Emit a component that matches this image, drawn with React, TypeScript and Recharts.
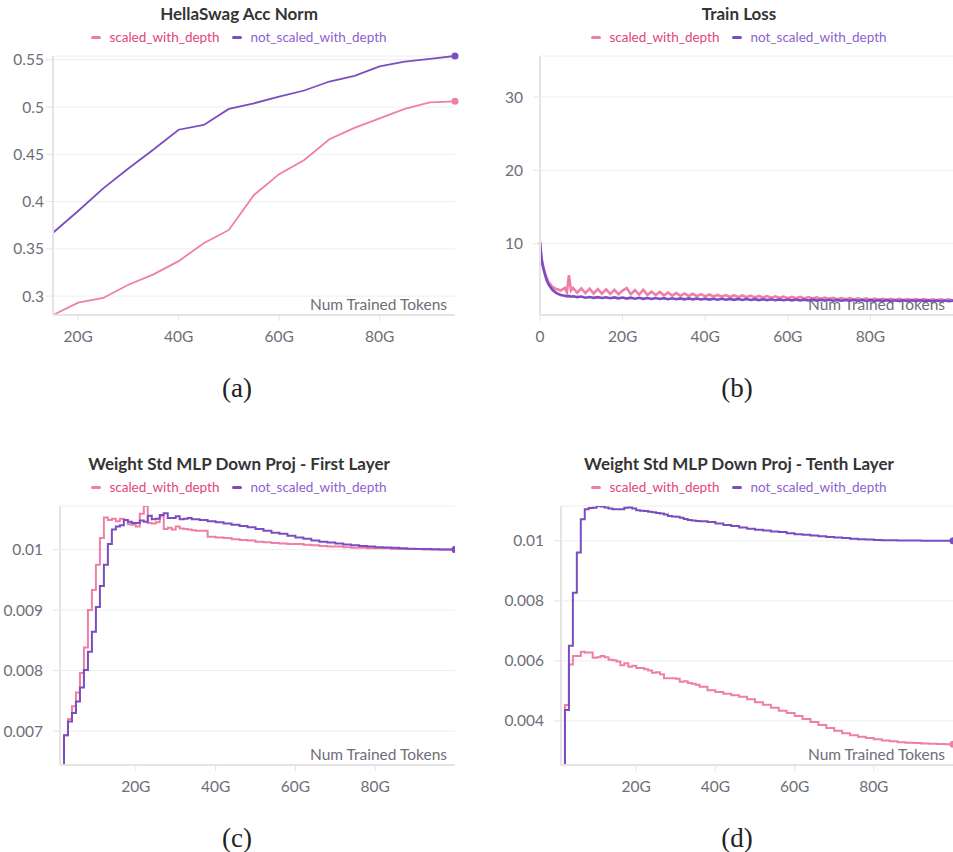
import React from 'react'
import { LineChart, Line, XAxis, YAxis, CartesianGrid } from 'recharts'

const PINK = '#ef7fa7'
const PURPLE = '#7c4dbf'
const PINK_TEXT = '#e3457a'
const PURPLE_TEXT = '#8d62cf'
const FONT = 'Lato, "Noto Sans", sans-serif'

// (a) HellaSwag Acc Norm
const hsTokens = [15, 20, 25, 30, 35, 40, 45, 50, 55, 60, 65, 70, 75, 80, 85, 90, 95]
const hsScaled = [0.28, 0.293, 0.298, 0.312, 0.323, 0.337, 0.356, 0.37, 0.407, 0.429, 0.444, 0.466, 0.478, 0.488, 0.498, 0.505, 0.506]
const hsNotScaled = [0.367, 0.39, 0.414, 0.435, 0.455, 0.476, 0.481, 0.498, 0.504, 0.511, 0.5175, 0.527, 0.533, 0.543, 0.548, 0.551, 0.554]
const hsYTicks = [0.3, 0.35, 0.4, 0.45, 0.5, 0.55]

// (b) Train Loss
const lossTokens = [
  0, 0.25, 0.5, 1, 1.5, 2, 3, 4, 5, 6, 6.5, 7, 7.5, 8,
  9, 10, 11, 12, 13, 14, 15, 16, 17, 18, 19, 20,
  21, 22, 23, 24, 25, 26, 27, 28, 29, 30,
  31, 32, 33, 34, 35, 36, 37, 38, 39, 40,
  41, 42, 43, 44, 45, 46, 47, 48, 49, 50,
  51, 52, 53, 54, 55, 56, 57, 58, 59, 60,
  61, 62, 63, 64, 65, 66, 67, 68, 69, 70,
  71, 72, 73, 74, 75, 76, 77, 78, 79, 80,
  81, 82, 83, 84, 85, 86, 87, 88, 89, 90,
  91, 92, 93, 94, 95, 96, 97, 98, 99, 100,
]
const lossScaled = [
  10.2, 8.7, 7.6, 6.4, 5.5, 4.8, 4.1, 3.8, 3.6, 3.95, 3.35, 5.7, 3.6, 3.95,
  3.3, 3.9, 3.25, 3.85, 3.2, 3.8, 3.18, 3.75, 3.15, 3.7, 3.1, 3.6,
  3.95, 3.1, 3.65, 3.05, 3.7, 3.0, 3.45, 2.98, 3.4, 2.95,
  3.32, 2.9, 3.25, 2.88, 3.2, 2.85, 3.15, 2.82, 3.1, 2.8,
  3.05, 2.78, 3.0, 2.75, 2.98, 2.72, 2.95, 2.7, 2.92, 2.68,
  2.9, 2.66, 2.86, 2.64, 2.84, 2.62, 2.8, 2.6, 2.78, 2.56,
  2.74, 2.54, 2.72, 2.52, 2.7, 2.5, 2.66, 2.48, 2.64, 2.46,
  2.6, 2.42, 2.58, 2.4, 2.56, 2.38, 2.54, 2.36, 2.52, 2.35,
  2.5, 2.34, 2.48, 2.33, 2.46, 2.32, 2.45, 2.31, 2.44, 2.3,
  2.43, 2.29, 2.42, 2.28, 2.41, 2.28, 2.4, 2.27, 2.39, 2.26,
]
const lossNotScaled = [
  10.2, 8.6, 7.4, 6.2, 5.2, 4.5, 3.7, 3.25, 3.0, 2.88, 2.8, 2.86, 2.76, 2.82,
  2.7, 2.78, 2.62, 2.72, 2.6, 2.7, 2.58, 2.68, 2.55, 2.66, 2.53, 2.64,
  2.5, 2.62, 2.48, 2.6, 2.47, 2.58, 2.45, 2.57, 2.44, 2.56,
  2.42, 2.54, 2.41, 2.53, 2.4, 2.52, 2.39, 2.5, 2.38, 2.49,
  2.36, 2.48, 2.35, 2.47, 2.34, 2.46, 2.33, 2.45, 2.32, 2.44,
  2.31, 2.42, 2.3, 2.41, 2.29, 2.4, 2.28, 2.39, 2.27, 2.38,
  2.26, 2.37, 2.25, 2.36, 2.24, 2.35, 2.23, 2.34, 2.22, 2.33,
  2.21, 2.32, 2.2, 2.31, 2.2, 2.3, 2.19, 2.3, 2.18, 2.29,
  2.18, 2.28, 2.17, 2.28, 2.17, 2.27, 2.16, 2.27, 2.16, 2.26,
  2.15, 2.26, 2.15, 2.25, 2.14, 2.25, 2.14, 2.24, 2.13, 2.22,
]
const lossYTicks = [10, 20, 30]

// (c), (d) Weight Std MLP Down Proj
const stdTokens = [
  1, 2, 3, 4, 5, 6, 7, 8, 9, 10, 11, 12, 13, 14, 15, 16, 17, 18,
  19, 20, 21, 22, 23, 24, 25, 26, 27, 28, 29, 30, 31, 32, 33, 34, 35, 36,
  38, 40, 42, 44, 46, 48, 50, 52, 54, 56, 58, 60, 62, 64, 66, 68,
  70, 72, 74, 76, 78, 80, 82, 84, 86, 88, 90, 92, 94, 96, 98, 100,
]
const firstScaled = [
  0.0062, 0.00693, 0.0072, 0.00741, 0.00764, 0.00796, 0.00838, 0.009, 0.00933, 0.00975, 0.01019, 0.01053, 0.01049, 0.01051, 0.01047, 0.01051, 0.01049, 0.01042,
  0.01041, 0.01038, 0.01059, 0.01072, 0.01044, 0.01043, 0.01045, 0.01055, 0.01034, 0.01036, 0.01033, 0.01038, 0.01035, 0.01034, 0.01033, 0.01032, 0.01031, 0.01031,
  0.01021, 0.0102, 0.01019, 0.01017, 0.01016, 0.01015, 0.01013, 0.01012, 0.01011, 0.0101, 0.01009, 0.01009, 0.01008, 0.01007, 0.01006, 0.01005,
  0.01005, 0.01004, 0.01003, 0.01003, 0.01002, 0.01002, 0.01002, 0.01001, 0.01001, 0.01001, 0.01001, 0.01, 0.01, 0.01, 0.01, 0.01,
]
const firstNotScaled = [
  0.0062, 0.00693, 0.00716, 0.0073, 0.00749, 0.00772, 0.00801, 0.00831, 0.00864, 0.00905, 0.0094, 0.00975, 0.01009, 0.01033, 0.01038, 0.0104, 0.01049, 0.01046,
  0.01044, 0.01044, 0.01048, 0.01046, 0.01056, 0.0105, 0.01051, 0.01057, 0.0106, 0.01052, 0.01052, 0.01055, 0.0105, 0.01051, 0.01052, 0.0105, 0.0105, 0.01049,
  0.01047, 0.01045, 0.01043, 0.01041, 0.01039, 0.01037, 0.01034, 0.01031, 0.01028, 0.01026, 0.01023, 0.0102, 0.01018, 0.01015, 0.01013, 0.010115,
  0.0101, 0.010085, 0.01007, 0.01006, 0.01005, 0.01004, 0.010035, 0.01003, 0.01002, 0.010015, 0.01001, 0.010008, 0.010005, 0.010003, 0.010001, 0.01,
]
const tenthScaled = [
  0.0024, 0.00453, 0.00588, 0.00616, 0.00616, 0.0063, 0.00628, 0.00628, 0.0061, 0.00612, 0.00616, 0.00612, 0.00604, 0.00602, 0.00598, 0.00585, 0.00592, 0.0058,
  0.00584, 0.00576, 0.00576, 0.00572, 0.00568, 0.0056, 0.00562, 0.00555, 0.00542, 0.00542, 0.00542, 0.0054, 0.0053, 0.00532, 0.00526, 0.00524, 0.0052, 0.00514,
  0.00502, 0.00496, 0.0049, 0.00485, 0.0048, 0.00472, 0.00462, 0.00454, 0.00444, 0.00434, 0.00426, 0.00416, 0.00406, 0.00396, 0.00386, 0.00376,
  0.00367, 0.00359, 0.00352, 0.00347, 0.00343, 0.00339, 0.00335, 0.00332, 0.00329, 0.00327, 0.00326, 0.00325, 0.00324, 0.00323, 0.00322, 0.00322,
]
const tenthNotScaled = [
  0.0024, 0.00436, 0.0065, 0.00827, 0.00961, 0.01072, 0.01105, 0.01109, 0.0111, 0.01116, 0.01114, 0.01111, 0.01108, 0.01105, 0.01105, 0.01105, 0.0111, 0.01111,
  0.01108, 0.01102, 0.011, 0.01099, 0.01097, 0.01095, 0.01093, 0.01091, 0.01088, 0.01083, 0.01081, 0.0108, 0.01077, 0.01073, 0.01069, 0.01068, 0.01066, 0.01065,
  0.01063, 0.01058, 0.01053, 0.01049, 0.01044, 0.0104, 0.01037, 0.01034, 0.01031, 0.01029, 0.01025, 0.01022, 0.0102, 0.01018, 0.01015, 0.01013,
  0.01011, 0.01009, 0.01007, 0.01005, 0.01004, 0.01003, 0.01002, 0.01002, 0.01001, 0.01001, 0.01001, 0.01, 0.01, 0.01, 0.01, 0.01,
]
const firstYTicks = [0.007, 0.008, 0.009, 0.01]
const tenthYTicks = [0.004, 0.006, 0.008, 0.01]
const tokenTicks = [20, 40, 60, 80]
const lossTokenTicks = [0, 20, 40, 60, 80]

const toRows = (xs: number[], a: number[], b: number[]) =>
  xs.map((x, i) => ({ x, scaled: a[i], notScaled: b[i] }))

const fmtTokens = (v: number) => (v === 0 ? '0' : `${v}G`)

type PanelProps = {
  left: number
  top: number
  width: number
  plotLeft: number
  plotRight: number
  titleX: number
  title: string
  caption: string
  rows: { x: number; scaled: number; notScaled: number }[]
  xDomain: [number, number]
  xTicks: number[]
  yDomain: [number, number]
  yTicks: number[]
  yTickMargin: number
  curve: 'linear' | 'stepAfter'
  strokeWidth: number
  endDot: boolean
  clip: boolean
}

const LegendRow = ({ x }: { x: number }) => (
  <div
    style={{
      position: 'absolute', left: x - 250, width: 500, top: 27, height: 20,
      display: 'flex', justifyContent: 'center', alignItems: 'center',
      fontFamily: FONT, fontSize: 13.5, lineHeight: '20px',
    }}
  >
    <span style={{ width: 10, height: 3, borderRadius: 2, background: PINK, marginRight: 8 }} />
    <span style={{ color: PINK_TEXT, marginRight: 13 }}>scaled_with_depth</span>
    <span style={{ width: 10, height: 3, borderRadius: 2, background: PURPLE, marginRight: 8 }} />
    <span style={{ color: PURPLE_TEXT }}>not_scaled_with_depth</span>
  </div>
)

const Panel = (p: PanelProps) => {
  const last = p.rows.length - 1
  const dot = (color: string) => (d: any) =>
    <circle key={`dot-${d.index}`} cx={d.cx} cy={d.cy} r={p.endDot && d.index === last ? 3.5 : 0} fill={color} stroke="none" />
  return (
    <div style={{ position: 'absolute', left: p.left, top: p.top, width: p.width, height: 420 }}>
      <div
        style={{
          position: 'absolute', left: p.titleX - 250, width: 500, top: 4, textAlign: 'center',
          fontFamily: FONT, fontWeight: 700, fontSize: 17, lineHeight: '20px', color: '#343434',
        }}
      >
        {p.title}
      </div>
      <LegendRow x={p.titleX} />
      <div
        style={{
          position: 'absolute', right: p.width - p.plotRight + 8, top: 294, lineHeight: '20px',
          fontFamily: FONT, fontSize: 15.5, color: '#6e6e78', whiteSpace: 'nowrap',
        }}
      >
        Num Trained Tokens
      </div>
      <div style={{ position: 'absolute', left: 0, top: 0 }}>
        <LineChart
          width={p.width}
          height={360}
          data={p.rows}
          margin={{ top: 56, right: p.width - p.plotRight, left: 0, bottom: 5 }}
        >
          <CartesianGrid vertical={false} stroke="#eeeeee" />
          <XAxis
            type="number"
            dataKey="x"
            domain={p.xDomain}
            ticks={p.xTicks}
            tickFormatter={fmtTokens}
            allowDataOverflow={p.clip}
            height={40}
            tickSize={6}
            tickMargin={10}
            axisLine={{ stroke: '#e4e4e4', strokeWidth: 2 }}
            tickLine={{ stroke: '#e4e4e4' }}
            tick={{ fill: '#6e6e78', fontSize: 15.5, fontFamily: FONT }}
          />
          <YAxis
            type="number"
            domain={p.yDomain}
            ticks={p.yTicks}
            allowDataOverflow={p.clip}
            width={p.plotLeft}
            tickSize={7}
            tickMargin={p.yTickMargin}
            axisLine={{ stroke: '#e4e4e4', strokeWidth: 2 }}
            tickLine={{ stroke: '#e4e4e4' }}
            tick={{ fill: '#6e6e78', fontSize: 15.5, fontFamily: FONT }}
          />
          <Line
            type={p.curve}
            dataKey="scaled"
            stroke={PINK}
            strokeWidth={p.strokeWidth}
            dot={dot(PINK)}
            activeDot={false}
            isAnimationActive={false}
          />
          <Line
            type={p.curve}
            dataKey="notScaled"
            stroke={PURPLE}
            strokeWidth={p.strokeWidth}
            dot={dot(PURPLE)}
            activeDot={false}
            isAnimationActive={false}
          />
        </LineChart>
      </div>
      <div
        style={{
          position: 'absolute', left: p.titleX - 2 - 100, width: 200, top: 372, textAlign: 'center',
          fontFamily: '"Liberation Serif", "DejaVu Serif", serif', fontSize: 27, lineHeight: '32px', color: '#222',
        }}
      >
        {p.caption}
      </div>
    </div>
  )
}

export default function App() {
  return (
    <div style={{ position: 'absolute', left: 0, top: 0, width: 953, height: 852, background: '#fff', overflow: 'hidden' }}>
      <Panel
        left={0} top={0} width={476} plotLeft={53} plotRight={455} titleX={239}
        title="HellaSwag Acc Norm" caption="(a)"
        rows={toRows(hsTokens, hsScaled, hsNotScaled)}
        xDomain={[15, 95]} xTicks={tokenTicks}
        yDomain={[0.28, 0.554]} yTicks={hsYTicks} yTickMargin={2}
        curve="linear" strokeWidth={1.8} endDot clip={false}
      />
      <Panel
        left={476} top={0} width={477} plotLeft={64} plotRight={477} titleX={263}
        title="Train Loss" caption="(b)"
        rows={toRows(lossTokens, lossScaled, lossNotScaled)}
        xDomain={[0, 100]} xTicks={lossTokenTicks}
        yDomain={[0.26, 35.6]} yTicks={lossYTicks} yTickMargin={10}
        curve="linear" strokeWidth={2.6} endDot={false} clip={false}
      />
      <Panel
        left={0} top={450} width={476} plotLeft={60} plotRight={455} titleX={239}
        title="Weight Std MLP Down Proj - First Layer" caption="(c)"
        rows={toRows(stdTokens, firstScaled, firstNotScaled)}
        xDomain={[1, 100]} xTicks={tokenTicks}
        yDomain={[0.00644, 0.01072]} yTicks={firstYTicks} yTickMargin={10}
        curve="stepAfter" strokeWidth={2} endDot clip
      />
      <Panel
        left={476} top={450} width={477} plotLeft={85} plotRight={477} titleX={263}
        title="Weight Std MLP Down Proj - Tenth Layer" caption="(d)"
        rows={toRows(stdTokens, tenthScaled, tenthNotScaled)}
        xDomain={[1, 100]} xTicks={tokenTicks}
        yDomain={[0.00253, 0.01116]} yTicks={tenthYTicks} yTickMargin={10}
        curve="stepAfter" strokeWidth={2} endDot clip
      />
    </div>
  )
}
